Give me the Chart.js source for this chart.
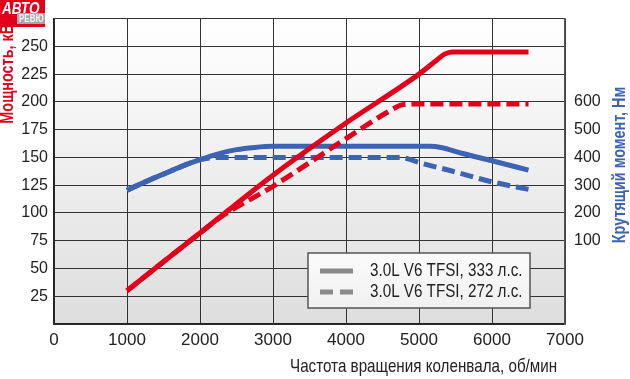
<!DOCTYPE html>
<html>
<head>
<meta charset="utf-8">
<script src="https://cdn.jsdelivr.net/npm/chart.js@4"></script>
<style>
  html, body { margin: 0; padding: 0; background: #fff; }
  #wrap { width: 630px; height: 379px; position: relative; }
</style>
</head>
<body>
<div id="wrap"><canvas id="chart"></canvas></div>
<script>
// Мощность, кВт
const powerRpm333 = [1000, 2000, 3000, 4000, 5000, 5250, 5350, 5450, 6500];
const power333 = [30, 82, 134, 181, 225, 238, 243, 245, 245];
const powerRpm272 = [1000, 2000, 2300, 3000, 4000, 4600, 4750, 4850, 6500];
const power272 = [30, 82, 97, 124, 167, 192, 197, 198, 198];

// Крутящий момент, Нм
const torqueRpm333 = [1000, 1250, 1500, 1750, 2000, 2250, 2500, 2750, 3000, 5150, 5300, 5600, 6000, 6500];
const torque333 = [282, 312, 340, 368, 392, 413, 428, 436, 440, 440, 436, 414, 388, 354];
const torqueRpm272 = [1000, 1250, 1500, 1750, 2000, 2250, 4750, 4850, 5000, 5450, 6000, 6500];
const torque272 = [282, 312, 340, 368, 392, 400, 400, 395, 382, 351, 312, 285];

const legendLabels = ["3.0L V6 TFSI, 333 л.с.", "3.0L V6 TFSI, 272 л.с."];
const powerTitle = "Мощность, кВт";
const torqueTitle = "Крутящий момент, Нм";
const rpmTitle = "Частота вращения коленвала, об/мин";

const RED = "#e2001a";
const BLUE = "#3c64b2";
const FONT = "'Liberation Sans', Arial, sans-serif";

function points(xs, ys) {
  return xs.map((x, i) => ({ x: x, y: ys[i] }));
}

// texte étroit : Liberation Sans compressée horizontalement
function narrowText(ctx, text, x, y, font, color, align, angle) {
  ctx.save();
  ctx.translate(x, y);
  if (angle) ctx.rotate(angle);
  ctx.scale(0.8, 1);
  ctx.font = font;
  ctx.fillStyle = color;
  ctx.textAlign = align;
  ctx.textBaseline = "middle";
  ctx.fillText(text, 0, 0);
  ctx.restore();
}

// fond dégradé de la zone du graphique
const backgroundPlugin = {
  id: "bg",
  beforeDraw(chart) {
    const a = chart.chartArea;
    const ctx = chart.ctx;
    const g = ctx.createLinearGradient(0, a.top, 0, a.bottom);
    g.addColorStop(0, "#ffffff");
    g.addColorStop(1, "#dedede");
    ctx.save();
    ctx.fillStyle = g;
    ctx.fillRect(a.left, a.top, a.right - a.left, a.bottom - a.top);
    ctx.restore();
  }
};

// titres, légende et logo
const decorPlugin = {
  id: "decor",
  afterDraw(chart) {
    const ctx = chart.ctx;
    ctx.save();

    narrowText(ctx, powerTitle, 8, 17, "bold 18px " + FONT, RED, "right", -Math.PI / 2);
    narrowText(ctx, torqueTitle, 620, 165, "bold 18px " + FONT, BLUE, "center", -Math.PI / 2);
    narrowText(ctx, rpmTitle, 290, 367, "19px " + FONT, "#222", "left", 0);

    // légende
    const lx = 308, ly = 253, lw = 222, lh = 55;
    const lg = ctx.createLinearGradient(0, ly, 0, ly + lh);
    lg.addColorStop(0, "#fbfbfb");
    lg.addColorStop(1, "#f0f0f0");
    ctx.fillStyle = lg;
    ctx.fillRect(lx, ly, lw, lh);
    ctx.strokeStyle = "#555";
    ctx.lineWidth = 1.5;
    ctx.strokeRect(lx, ly, lw, lh);
    ctx.strokeStyle = "#8a8a8a";
    ctx.lineWidth = 5;
    [271, 292].forEach((y, i) => {
      ctx.setLineDash(i === 0 ? [] : [13, 7]);
      ctx.beginPath();
      ctx.moveTo(320, y);
      ctx.lineTo(353, y);
      ctx.stroke();
    });
    ctx.setLineDash([]);
    narrowText(ctx, legendLabels[0], 370, 271, "19px " + FONT, "#222", "left", 0);
    narrowText(ctx, legendLabels[1], 370, 292, "19px " + FONT, "#222", "left", 0);

    // logo
    ctx.fillStyle = RED;
    ctx.fillRect(0, 0, 45, 27);
    narrowText(ctx, "АВТО", 2, 9, "italic bold 17px " + FONT, "#fff", "left", 0);
    ctx.fillStyle = "#a8a8a8";
    ctx.fillRect(17, 13, 28, 11);
    narrowText(ctx, "РЕВЮ", 19, 19, "bold 10px " + FONT, "#f4f4f4", "left", 0);

    ctx.restore();
  }
};

const lineBase = {
  borderWidth: 5,
  pointRadius: 0,
  fill: false,
  cubicInterpolationMode: "monotone",
  borderCapStyle: "butt"
};

new Chart(document.getElementById("chart"), {
  type: "line",
  data: {
    datasets: [
      Object.assign({}, lineBase, { label: legendLabels[0], data: points(powerRpm333, power333), borderColor: RED, yAxisID: "y" }),
      Object.assign({}, lineBase, { label: legendLabels[1], data: points(powerRpm272, power272), borderColor: RED, borderDash: [13, 6], yAxisID: "y" }),
      Object.assign({}, lineBase, { label: legendLabels[0], data: points(torqueRpm333, torque333), borderColor: BLUE, yAxisID: "y1" }),
      Object.assign({}, lineBase, { label: legendLabels[1], data: points(torqueRpm272, torque272), borderColor: BLUE, borderDash: [13, 6], yAxisID: "y1" })
    ]
  },
  options: {
    responsive: true,
    maintainAspectRatio: false,
    animation: false,
    layout: { padding: { top: 1 } },
    plugins: {
      legend: { display: false },
      tooltip: { enabled: false }
    },
    scales: {
      x: {
        type: "linear",
        min: 0,
        max: 7000,
        ticks: {
          stepSize: 1000,
          color: "#222",
          font: { family: FONT, size: 17 },
          padding: 6,
          maxRotation: 0,
          autoSkip: false,
          callback: v => String(v)
        },
        grid: { color: "#333", lineWidth: 1, drawTicks: false },
        border: { color: "#222", width: 1.5 },
        afterFit(scale) { scale.height = 55; }
      },
      y: {
        position: "left",
        min: 0,
        max: 275,
        ticks: {
          stepSize: 25,
          color: "#222",
          font: { family: FONT, size: 16 },
          padding: 6,
          callback: v => (v === 0 || v === 275) ? "" : String(v)
        },
        grid: { color: "#333", lineWidth: 1, drawTicks: false },
        border: { color: "#222", width: 1.5 },
        afterFit(scale) { scale.width = 54; }
      },
      y1: {
        position: "right",
        min: -200,
        max: 900,
        ticks: {
          stepSize: 100,
          color: "#222",
          font: { family: FONT, size: 16 },
          padding: 9,
          callback: v => (v >= 100 && v <= 600) ? String(v) : ""
        },
        grid: { display: false, drawTicks: false },
        border: { color: "#555", width: 1.5 },
        afterFit(scale) { scale.width = 65; }
      }
    }
  },
  plugins: [backgroundPlugin, decorPlugin]
});
</script>
</body>
</html>
